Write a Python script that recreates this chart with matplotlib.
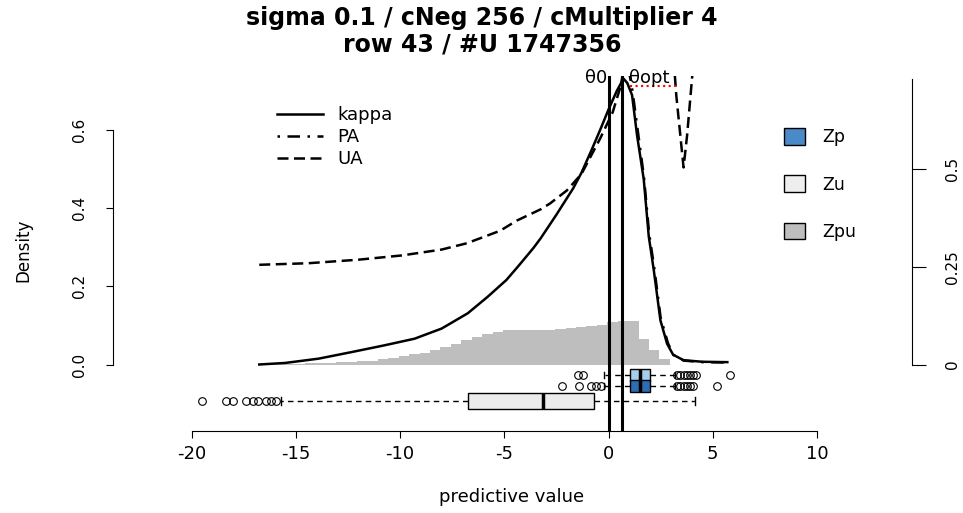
import numpy as np
import matplotlib.pyplot as plt
from matplotlib.patches import Patch
from matplotlib.lines import Line2D

plt.rcParams['font.family'] = 'DejaVu Sans'

title_1 = "sigma 0.1 / cNeg 256 / cMultiplier 4"
title_2 = "row 43 / #U 1747356"

# curves
kappa_x = [-16.75, -15.5, -13.9, -12.3, -10.75, -9.3, -8.0, -6.75, -5.8, -4.9, -4.35, -3.6, -3.25,
           -2.5, -1.7, -1.3, -0.8, -0.4, 0.0, 0.4, 0.72, 0.9, 1.13, 1.37, 1.69, 1.93, 2.17, 2.49,
           2.81, 3.1, 3.6, 4.5, 5.7]
kappa_y = [0.0, 0.004, 0.015, 0.032, 0.049, 0.066, 0.092, 0.131, 0.173, 0.216, 0.25, 0.298, 0.323,
           0.383, 0.45, 0.49, 0.55, 0.60, 0.652, 0.70, 0.731, 0.72, 0.689, 0.586, 0.474, 0.328,
           0.242, 0.113, 0.053, 0.025, 0.011, 0.007, 0.006]

pa_x = [0.6, 0.95, 1.15, 1.4, 1.7, 1.95, 2.2, 2.5, 2.85, 3.1, 3.6, 4.5, 5.7]
pa_y = [0.95, 0.76, 0.70, 0.60, 0.48, 0.335, 0.245, 0.12, 0.055, 0.025, 0.010, 0.006, 0.005]

ua_x = [-16.75, -14.4, -12.0, -9.9, -8.0, -6.8, -5.2, -4.4, -3.25, -2.8, -2.0, -1.3, -0.4,
        0.2, 0.6, 1.0, 2.0, 3.1, 3.25, 3.6, 3.77, 4.0, 4.2]
ua_y = [0.255, 0.259, 0.268, 0.279, 0.294, 0.310, 0.342, 0.368, 0.397, 0.412, 0.445, 0.487, 0.578,
        0.645, 0.715, 0.85, 0.90, 0.80, 0.689, 0.504, 0.586, 0.728, 0.85]

# red dotted segment at the top
red_x = [1.05, 3.3]
red_y = [0.711, 0.711]

# thresholds
theta0 = 0.0
theta_opt = 0.65

# histogram (bin width 0.5)
hist_start = -16.06
hist_width = 0.5
hist_heights = [0.001, 0.002, 0.002, 0.003, 0.004, 0.005, 0.006, 0.007, 0.008, 0.010,
                0.013, 0.016, 0.021, 0.026, 0.030, 0.036, 0.045, 0.053, 0.062, 0.070,
                0.078, 0.084, 0.088, 0.089, 0.089, 0.089, 0.089, 0.090, 0.094, 0.096,
                0.099, 0.100, 0.108, 0.111, 0.112, 0.066, 0.036, 0.013]

# boxplots: whislo, q1, med, q3, whishi
zp1_box = [-0.22, 1.05, 1.53, 1.98, 3.2]
zp1_out = [-1.44, -1.2, 3.3, 3.45, 3.6, 3.75, 3.9, 4.05, 4.2, 5.84]
zp2_box = [-0.22, 1.05, 1.53, 1.98, 3.2]
zp2_out = [-2.22, -1.42, -0.86, -0.62, -0.38, 3.3, 3.45, 3.6, 3.75, 3.9, 4.05, 5.2]
zu_box = [-15.69, -6.72, -3.13, -0.70, 4.16]
zu_out = [-19.52, -18.33, -18.0, -17.37, -17.05, -16.81, -16.41, -16.17, -15.93]

legend_labels = ['Zp', 'Zu', 'Zpu']
legend_colors = ['#4a8ac8', '#eeeeee', '#bebebe']

######## figure #########
W, H = 963, 513
fig = plt.figure(figsize=(W / 100, H / 100), dpi=100)

# pixel layout: x=0 at px 608.5, 20.85 px per unit; y=0 at px 364.5, 391 px per unit
x0px, xs = 608.5, 20.85
y0px, ys = 364.5, 391.0
left_px, right_px, top_px, bot_px = 113, 912, 76, 431
ax = fig.add_axes([left_px / W, 1 - bot_px / H, (right_px - left_px) / W, (bot_px - top_px) / H])
ax.set_xlim((left_px - x0px) / xs, (right_px - x0px) / xs)
ax.set_ylim((y0px - bot_px) / ys, (y0px - top_px) / ys)

edges = hist_start + hist_width * np.arange(len(hist_heights))
ax.bar(edges, hist_heights, width=hist_width, align='edge', color='#bebebe', linewidth=0)

ax.plot(kappa_x, kappa_y, color='black', lw=1.8, ls='-')
ax.plot(pa_x, pa_y, color='black', lw=1.8, ls=(0, (1, 3, 5, 3)))
ax.plot(ua_x, ua_y, color='black', lw=1.8, ls=(0, (4.4, 2.2)))
ax.plot(red_x, red_y, color='red', lw=1.5, ls=':')

def draw_box(vals, out, pos, w, color):
    st = dict(whislo=vals[0], q1=vals[1], med=vals[2], q3=vals[3], whishi=vals[4], fliers=out)
    ax.bxp([st], positions=[pos], widths=[w], capwidths=[w * 0.5], orientation='horizontal',
           patch_artist=True, manage_ticks=False,
           boxprops=dict(facecolor=color, edgecolor='black', linewidth=1),
           whiskerprops=dict(color='black', linestyle=(0, (4, 3)), linewidth=1),
           capprops=dict(color='black', linewidth=1),
           medianprops=dict(color='black', linewidth=2.5),
           flierprops=dict(marker='o', markerfacecolor='none', markeredgecolor='black',
                           markersize=5.5, markeredgewidth=0.8))

draw_box(zp1_box, zp1_out, -0.026, 0.031, '#a6cde9')
draw_box(zp2_box, zp2_out, -0.055, 0.031, '#2d6db3')
draw_box(zu_box, zu_out, -0.093, 0.041, '#ebebeb')

ax.axvline(theta0, color='black', lw=2.2)
ax.axvline(theta_opt, color='black', lw=2.2)
ytxt = (y0px - 78) / ys
ax.text(theta0 - 0.05, ytxt, 'θ0', ha='right', va='center', fontsize=13, clip_on=False)
ax.text(theta_opt + 0.35, ytxt, 'θopt', ha='left', va='center', fontsize=13, clip_on=False)

# axes in R style
for s in ['top', 'right']:
    ax.spines[s].set_visible(False)
ax.spines['left'].set_bounds(0, 0.6)
ax.spines['bottom'].set_bounds(-20, 10)
ax.set_xticks([-20, -15, -10, -5, 0, 5, 10])
ax.set_xticklabels(['-20', '-15', '-10', '-5', '0', '5', '10'], fontsize=13)
ax.set_yticks([0, 0.2, 0.4, 0.6])
ax.set_yticklabels(['0.0', '0.2', '0.4', '0.6'], fontsize=11, rotation=90, va='center')
ax.tick_params(axis='x', length=5, pad=5)
ax.tick_params(axis='y', length=5, pad=14)

ax2 = ax.twinx()
ax2.set_ylim(ax.get_ylim())
for s in ['top', 'left', 'bottom']:
    ax2.spines[s].set_visible(False)
ax2.spines['right'].set_bounds(0, 0.73)
ax2.set_yticks([0, 0.25, 0.5])
ax2.set_yticklabels(['0', '0.25', '0.5'], fontsize=11, rotation=90, va='center')
ax2.tick_params(axis='y', length=10, pad=14)

# legends
h1 = [Line2D([], [], color='black', lw=1.8, ls='-'),
      Line2D([], [], color='black', lw=1.8, ls=(0, (1, 3, 5, 3))),
      Line2D([], [], color='black', lw=1.8, ls=(0, (4.4, 2.2)))]
leg1 = ax2.legend(h1, ['kappa', 'PA', 'UA'], loc='upper left', bbox_to_anchor=(277 / W, 1 - 106 / H),
                  bbox_transform=fig.transFigure, frameon=False, borderpad=0, borderaxespad=0,
                  handlelength=2.55, handletextpad=0.8, labelspacing=0.22, fontsize=13)
ax2.add_artist(leg1)
h2 = [Patch(facecolor=c, edgecolor='black', linewidth=1) for c in legend_colors]
ax2.legend(h2, legend_labels, loc='upper left', bbox_to_anchor=(784 / W, 1 - 128 / H),
           bbox_transform=fig.transFigure, frameon=False, borderpad=0, borderaxespad=0,
           handlelength=1.2, handleheight=1.1, handletextpad=1.0, labelspacing=1.68, fontsize=12.5)

fig.text(482 / W, 1 - 18 / H, title_1, ha='center', va='center', fontsize=17, fontweight='bold')
fig.text(482 / W, 1 - 45 / H, title_2, ha='center', va='center', fontsize=17, fontweight='bold')
fig.text(512 / W, 1 - 497 / H, 'predictive value', ha='center', va='center', fontsize=13)
fig.text(23 / W, 1 - 250 / H, 'Density', ha='center', va='center', fontsize=12, rotation=90)

fig.savefig('out.png', dpi=100)
